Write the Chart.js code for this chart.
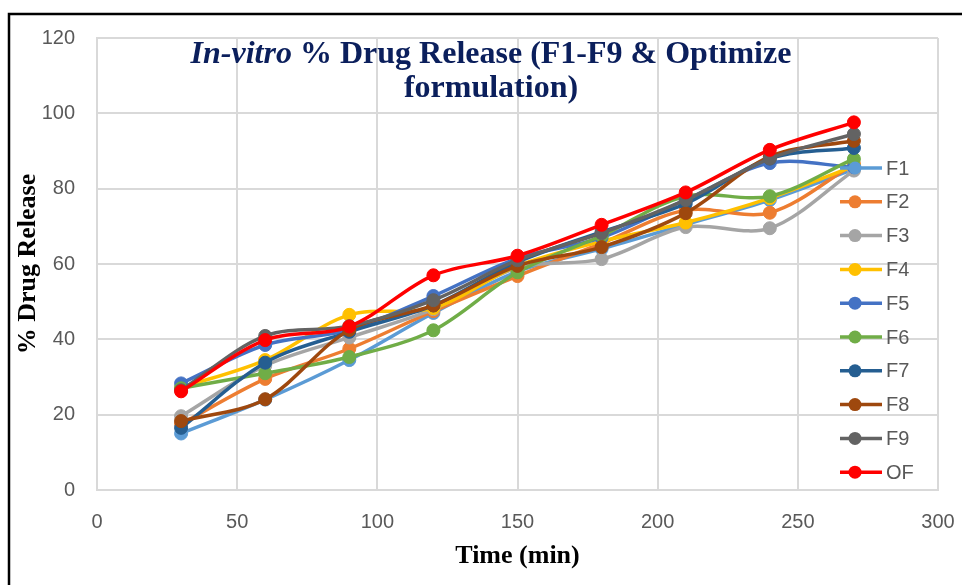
<!DOCTYPE html>
<html>
<head>
<meta charset="utf-8">
<script src="https://cdn.jsdelivr.net/npm/chart.js@4"></script>
<style>
  html, body { margin: 0; padding: 0; background: #fff; }
  #wrap { width: 962px; height: 585px; position: relative; }
</style>
</head>
<body>
<div id="wrap"><canvas id="release_chart" width="962" height="585"></canvas></div>
<script>
// sampling times (min)
const times = [30, 60, 90, 120, 150, 180, 210, 240, 270];

// cumulative % drug release for each formulation
const f1 = [15.0, 24.0, 34.5, 47.0, 58.0, 64.0, 70.5, 77.0, 85.2];
const f2 = [17.5, 29.5, 37.5, 47.5, 56.8, 65.5, 74.3, 73.6, 86.5];
const f3 = [19.6, 33.0, 40.5, 48.0, 59.0, 61.3, 69.8, 69.5, 84.8];
const f4 = [27.2, 34.5, 46.5, 48.3, 59.5, 66.0, 71.0, 77.5, 86.0];
const f5 = [28.3, 38.5, 42.5, 51.5, 61.5, 67.0, 77.0, 86.8, 85.7];
const f6 = [27.0, 31.0, 35.3, 42.4, 57.8, 67.5, 78.0, 78.0, 87.9];
const f7 = [16.5, 33.8, 42.0, 49.0, 60.5, 68.5, 76.0, 88.0, 90.8];
const f8 = [18.3, 24.1, 42.5, 49.0, 59.5, 64.5, 73.5, 88.5, 92.7];
const f9 = [26.5, 40.9, 43.5, 50.4, 61.0, 68.2, 77.0, 88.0, 94.5];
const of = [26.2, 39.8, 43.4, 57.0, 62.2, 70.4, 79.0, 90.3, 97.6];

const series_names = ['F1', 'F2', 'F3', 'F4', 'F5', 'F6', 'F7', 'F8', 'F9', 'OF'];
const series_values = [f1, f2, f3, f4, f5, f6, f7, f8, f9, of];
const series_colors = ['#5B9BD5', '#ED7D31', '#A5A5A5', '#FFC000', '#4472C4',
                       '#70AD47', '#255E91', '#9E480E', '#636363', '#FF0000'];

const y_ticks = [0, 20, 40, 60, 80, 100, 120];
const x_ticks = [0, 50, 100, 150, 200, 250, 300];

const tick_font = { family: '"Liberation Sans", Arial, sans-serif', size: 20 };
const axis_title_font = { family: '"Liberation Serif", "Times New Roman", serif', size: 26, weight: 'bold' };

function build_datasets() {
    let datasets = [];
    for (let i = 0; i < series_names.length; i++) {
        datasets.push({
            label: series_names[i],
            data: times.map((t, k) => ({ x: t, y: series_values[i][k] })),
            borderColor: series_colors[i],
            backgroundColor: series_colors[i],
            pointBackgroundColor: series_colors[i],
            pointBorderColor: series_colors[i],
            borderWidth: 3.5,
            pointRadius: 6.5,
            pointBorderWidth: 1,
            tension: 0.33,
            fill: false,
            // last series ends up on top
            order: series_names.length - i,
        });
    }
    return datasets;
}

// outer black frame
const frame_plugin = {
    id: 'frame',
    beforeDraw(chart) {
        const ctx = chart.ctx;
        ctx.save();
        ctx.fillStyle = '#fff';
        ctx.fillRect(0, 0, chart.width, chart.height);
        ctx.strokeStyle = '#000';
        ctx.lineWidth = 2.5;
        ctx.strokeRect(9, 14, chart.width + 20, chart.height + 20);
        ctx.restore();
    }
};

// two-line title, part italic, laid over the plot
const title_plugin = {
    id: 'overlay_title',
    afterDraw(chart) {
        const ctx = chart.ctx;
        const cx = 491;
        const italic = 'italic bold 32px "Liberation Serif", "Times New Roman", serif';
        const upright = 'bold 32px "Liberation Serif", "Times New Roman", serif';
        const part_a = 'In-vitro';
        const part_b = ' % Drug Release (F1-F9 & Optimize';
        ctx.save();
        ctx.fillStyle = '#0B1F5C';
        ctx.textBaseline = 'alphabetic';
        ctx.textAlign = 'left';
        ctx.font = italic;
        const wa = ctx.measureText(part_a).width;
        ctx.font = upright;
        const wb = ctx.measureText(part_b).width;
        let x = cx - (wa + wb) / 2;
        ctx.font = italic;
        ctx.fillText(part_a, x, 63);
        ctx.font = upright;
        ctx.fillText(part_b, x + wa, 63);
        ctx.textAlign = 'center';
        ctx.fillText('formulation)', cx, 97);
        ctx.restore();
    }
};

// legend drawn on top of the plot's right side
const legend_plugin = {
    id: 'overlay_legend',
    afterDraw(chart) {
        const ctx = chart.ctx;
        const top = 168, step = 33.8;
        ctx.save();
        ctx.font = '20px "Liberation Sans", Arial, sans-serif';
        ctx.textBaseline = 'middle';
        ctx.textAlign = 'left';
        chart.data.datasets.forEach((ds, i) => {
            const y = top + i * step;
            ctx.strokeStyle = ds.borderColor;
            ctx.lineWidth = 3.5;
            ctx.beginPath();
            ctx.moveTo(840, y);
            ctx.lineTo(882, y);
            ctx.stroke();
            ctx.fillStyle = ds.borderColor;
            ctx.beginPath();
            ctx.arc(855, y, 6.5, 0, Math.PI * 2);
            ctx.fill();
            ctx.fillStyle = '#595959';
            ctx.fillText(ds.label, 886, y + 1);
        });
        ctx.restore();
    }
};

const chart = new Chart(document.getElementById('release_chart'), {
    type: 'line',
    data: { datasets: build_datasets() },
    options: {
        responsive: false,
        animation: false,
        devicePixelRatio: 1,
        layout: { padding: { left: 0, top: 38, right: 24, bottom: 0 } },
        plugins: {
            legend: { display: false },
            title: { display: false },
            tooltip: { enabled: false },
        },
        scales: {
            x: {
                type: 'linear',
                min: 0,
                max: 300,
                afterFit: (scale) => {
                    scale.height = 95;
                    // edge labels fit in the outer padding already
                    scale.paddingLeft = 0;
                    scale.paddingRight = 0;
                },
                afterBuildTicks: (scale) => { scale.ticks = x_ticks.map(v => ({ value: v })); },
                grid: { color: '#D9D9D9', lineWidth: 2, drawTicks: false },
                border: { color: '#D9D9D9', width: 2 },
                ticks: { font: tick_font, color: '#595959', padding: 20 },
                title: {
                    display: true,
                    text: 'Time (min)',
                    font: axis_title_font,
                    color: '#000',
                    padding: { top: 0, bottom: 13 },
                },
            },
            y: {
                min: 0,
                max: 120,
                afterFit: (scale) => { scale.width = 97; },
                afterBuildTicks: (scale) => { scale.ticks = y_ticks.map(v => ({ value: v })); },
                grid: { color: '#D9D9D9', lineWidth: 2, drawTicks: false },
                border: { color: '#D9D9D9', width: 2 },
                ticks: { font: tick_font, color: '#595959', padding: 22 },
                title: {
                    display: true,
                    text: '% Drug Release',
                    font: axis_title_font,
                    color: '#000',
                    padding: { top: 13, bottom: 0 },
                },
            },
        },
    },
    plugins: [frame_plugin, title_plugin, legend_plugin],
});
</script>
</body>
</html>
